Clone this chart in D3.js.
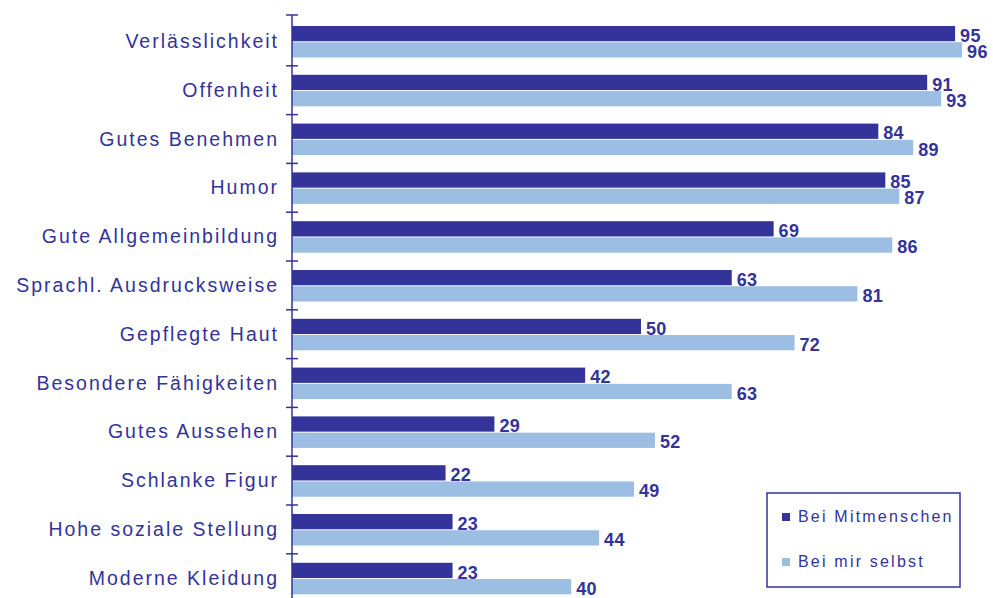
<!DOCTYPE html>
<html lang="de">
<head>
  <meta charset="UTF-8">
  <title>Wichtige Eigenschaften</title>
  <script src="https://d3js.org/d3.v7.min.js"></script>
  <style>
    body { margin: 0; background: #ffffff; }
    .cat-label {
      font-family: "Liberation Sans", Arial, sans-serif;
      font-size: 19.5px;
      letter-spacing: 2px;
      fill: #333399;
    }
    .value-label {
      font-family: "Liberation Sans", Arial, sans-serif;
      font-size: 18px;
      font-weight: bold;
      letter-spacing: 0.3px;
      fill: #333399;
    }
    .legend-label {
      font-family: "Liberation Sans", Arial, sans-serif;
      font-size: 16px;
      letter-spacing: 2.2px;
      fill: #333399;
    }
  </style>
</head>
<body>
  <script>
    const width = 993, height = 598;

    // Data
    const categories = [
      "Verlässlichkeit", "Offenheit", "Gutes Benehmen", "Humor",
      "Gute Allgemeinbildung", "Sprachl. Ausdrucksweise", "Gepflegte Haut",
      "Besondere Fähigkeiten", "Gutes Aussehen", "Schlanke Figur",
      "Hohe soziale Stellung", "Moderne Kleidung"
    ];
    const seriesNames = ["Bei Mitmenschen", "Bei mir selbst"];
    const mitmenschen = [95, 91, 84, 85, 69, 63, 50, 42, 29, 22, 23, 23];
    const selbst = [96, 93, 89, 87, 86, 81, 72, 63, 52, 49, 44, 40];
    const colors = ["#333399", "#9bbee2"];

    const svg = d3.select("body").append("svg")
      .attr("width", width)
      .attr("height", height);

    const x = d3.scaleLinear().domain([0, 100]).range([292, 990]);
    const y = d3.scaleBand().domain(categories).range([17, 17 + 48.8 * categories.length]);
    const inner = d3.scaleBand().domain(seriesNames).range([9, 40.5]).paddingInner(0.06);

    const rows = categories.map((c, i) => ({
      cat: c,
      values: [
        { series: seriesNames[0], value: mitmenschen[i] },
        { series: seriesNames[1], value: selbst[i] }
      ]
    }));

    const row = svg.append("g").selectAll("g")
      .data(rows)
      .enter().append("g")
      .attr("transform", d => `translate(0, ${y(d.cat)})`);

    row.selectAll("rect")
      .data(d => d.values)
      .enter().append("rect")
      .attr("x", x(0))
      .attr("y", d => inner(d.series))
      .attr("width", d => x(d.value) - x(0))
      .attr("height", inner.bandwidth())
      .attr("fill", (d, i) => colors[i]);

    row.selectAll("text.value-label")
      .data(d => d.values)
      .enter().append("text")
      .attr("class", "value-label")
      .attr("x", d => x(d.value) + 5)
      .attr("y", d => inner(d.series) + inner.bandwidth() + 0.5)
      .text(d => d.value);

    // Category labels
    svg.append("g").selectAll("text")
      .data(categories)
      .enter().append("text")
      .attr("class", "cat-label")
      .attr("text-anchor", "end")
      .attr("x", 279)
      .attr("y", d => y(d) + 31)
      .text(d => d);

    // Axis line with ticks at band boundaries
    const axis = svg.append("g").attr("stroke", "#333399").attr("stroke-width", 1.5);
    axis.append("line")
      .attr("x1", x(0)).attr("x2", x(0))
      .attr("y1", 15).attr("y2", height);
    axis.selectAll("line.tick")
      .data(categories)
      .enter().append("line")
      .attr("class", "tick")
      .attr("x1", x(0) - 6).attr("x2", x(0) + 6)
      .attr("y1", (d, i) => i === 0 ? 15 : y(d))
      .attr("y2", (d, i) => i === 0 ? 15 : y(d));

    // Legend
    const legend = svg.append("g");
    legend.append("rect")
      .attr("x", 767).attr("y", 493)
      .attr("width", 193).attr("height", 94)
      .attr("fill", "#ffffff")
      .attr("stroke", "#333399")
      .attr("stroke-width", 1.5);
    const legendItems = legend.selectAll("g")
      .data(seriesNames)
      .enter().append("g")
      .attr("transform", (d, i) => `translate(782, ${513 + i * 45})`);
    legendItems.append("rect")
      .attr("width", 8).attr("height", 8)
      .attr("fill", (d, i) => colors[i]);
    legendItems.append("text")
      .attr("class", "legend-label")
      .attr("x", 16)
      .attr("y", 9)
      .text(d => d);
  </script>
</body>
</html>
